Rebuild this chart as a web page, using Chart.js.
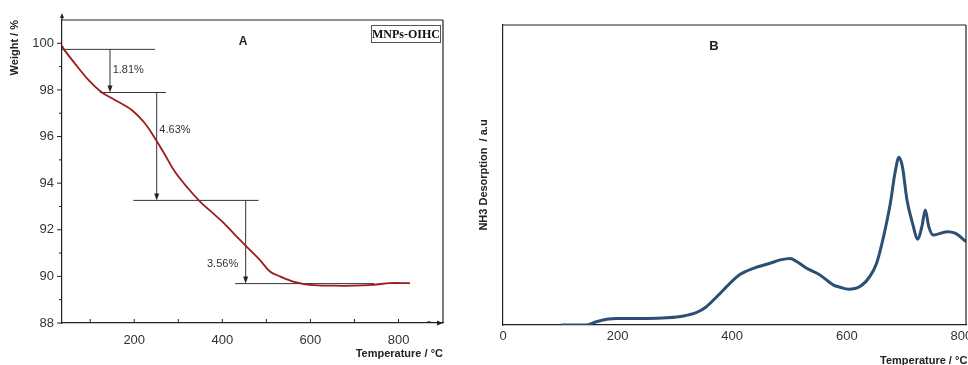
<!DOCTYPE html>
<html>
<head>
<meta charset="utf-8">
<script src="https://cdn.jsdelivr.net/npm/chart.js@4.4.1/dist/chart.umd.min.js"></script>
<style>
  body { margin: 0; background: #fff; overflow: hidden; width: 968px; height: 365px; position: relative; }
  #chartA { position: absolute; left: 0; top: 0; }
  #chartB { position: absolute; left: 476px; top: 0; }
</style>
</head>
<body>
<canvas id="chartA" width="480" height="365"></canvas>
<canvas id="chartB" width="524" height="365"></canvas>
<script>
// Panel A - TGA curve
const tgaTemp = [36, 40, 65, 96, 126, 156, 194, 224, 247, 270, 292, 322, 350, 383, 400, 425, 455, 485, 508, 531, 561, 599, 652, 697, 743, 780, 826];
const tgaWeight = [99.9, 99.75, 99.14, 98.43, 97.9, 97.57, 97.14, 96.57, 95.93, 95.21, 94.5, 93.78, 93.2, 92.64, 92.35, 91.86, 91.28, 90.71, 90.21, 90.0, 89.78, 89.64, 89.6, 89.6, 89.64, 89.71, 89.71];

// weight-loss steps (levels, line extents) and the arrows between them
const stepLevels = [99.74, 97.89, 93.26, 89.69];
const stepFrom = [36, 122, 198, 429];
const stepTo = [247, 272, 482, 745];
const lossTemp = [145, 251, 453];
const lossLabels = ['1.81%', '4.63%', '3.56%'];
const lossLabelTemp = [151, 257, 436];
const lossLabelWeight = [98.84, 96.29, 90.53];

const tempTicksA = [100, 200, 300, 400, 500, 600, 700, 800];
const tempLabelsA = [200, 400, 600, 800];
const weightTicks = [88, 89, 90, 91, 92, 93, 94, 95, 96, 97, 98, 99, 100];
const weightLabels = [88, 90, 92, 94, 96, 98, 100];

// Panel B - NH3-TPD curve
const tpdTemp = [102, 146, 163, 181, 198, 251, 286, 315, 338, 355, 373, 396, 414, 437, 466, 484, 501, 513, 530, 553, 577, 588, 603, 623, 640, 652, 664, 676, 684, 691, 697, 705, 714, 724, 731, 737, 743, 751, 775, 789, 808];
const tpdSignal = [0, 0, 1.1, 1.9, 2.2, 2.2, 2.4, 3, 4.2, 6.1, 9.4, 13.9, 16.9, 18.9, 20.6, 21.7, 22.2, 21.1, 18.9, 16.7, 13.3, 12.6, 11.9, 12.8, 16.1, 20.6, 29.4, 40.6, 50.6, 55.9, 52.8, 41.7, 34.4, 28.6, 32.8, 38.3, 32.8, 30, 31.1, 30.6, 27.8];
const tempTicksB = [0, 200, 400, 600, 800];

const SANS = '"Liberation Sans", Arial, sans-serif';
const INK = '#222';

function tri(ctx, x, y, dir, len, half) {
  ctx.beginPath();
  if (dir === 'up') { ctx.moveTo(x, y); ctx.lineTo(x - half, y + len); ctx.lineTo(x + half, y + len); }
  if (dir === 'down') { ctx.moveTo(x, y); ctx.lineTo(x - half, y - len); ctx.lineTo(x + half, y - len); }
  if (dir === 'right') { ctx.moveTo(x, y); ctx.lineTo(x - len, y - half); ctx.lineTo(x - len, y + half); }
  ctx.closePath();
  ctx.fill();
}

function seg(ctx, x1, y1, x2, y2) {
  ctx.beginPath();
  ctx.moveTo(x1, y1);
  ctx.lineTo(x2, y2);
  ctx.stroke();
}

const stepsPlugin = {
  id: 'steps',
  beforeDatasetsDraw(chart) {
    const { ctx, scales: { x, y } } = chart;
    ctx.save();
    ctx.strokeStyle = '#333';
    ctx.fillStyle = '#222';
    ctx.lineWidth = 1;
    stepLevels.forEach((w, i) => {
      seg(ctx, x.getPixelForValue(stepFrom[i]), y.getPixelForValue(w), x.getPixelForValue(stepTo[i]), y.getPixelForValue(w));
    });
    lossTemp.forEach((t, i) => {
      const px = x.getPixelForValue(t);
      const y2 = y.getPixelForValue(stepLevels[i + 1]);
      seg(ctx, px, y.getPixelForValue(stepLevels[i]), px, y2 - 4);
      tri(ctx, px, y2, 'down', 7, 2.5);
    });
    ctx.font = '11px ' + SANS;
    ctx.fillStyle = '#333';
    ctx.textBaseline = 'middle';
    lossLabels.forEach((s, i) => {
      ctx.textAlign = i === 2 ? 'right' : 'left';
      ctx.fillText(s, x.getPixelForValue(lossLabelTemp[i]), y.getPixelForValue(lossLabelWeight[i]));
    });
    ctx.restore();
  }
};

const frameA = {
  id: 'frameA',
  afterDraw(chart) {
    const { ctx, chartArea: a, scales: { x, y } } = chart;
    ctx.save();
    ctx.strokeStyle = INK;
    ctx.fillStyle = INK;
    ctx.lineWidth = 1.2;
    seg(ctx, a.left, a.top, a.right, a.top);
    seg(ctx, a.right, a.top, a.right, a.bottom);
    // axis arrows
    seg(ctx, a.left, a.top, a.left, a.top - 4);
    tri(ctx, a.left, a.top - 7, 'up', 5, 2);
    tri(ctx, a.right, a.bottom, 'right', 6, 2.5);
    seg(ctx, a.right - 16, a.bottom - 1, a.right - 12, a.bottom - 1);
    // x ticks point inward
    ctx.lineWidth = 1;
    tempTicksA.forEach(v => {
      const px = x.getPixelForValue(v);
      seg(ctx, px, a.bottom, px, a.bottom - 4);
    });
    // y ticks point outward, shorter for odd values
    weightTicks.forEach(v => {
      const py = y.getPixelForValue(v);
      seg(ctx, a.left, py, a.left - (v % 2 === 0 ? 5 : 3), py);
    });
    // panel letter
    ctx.font = 'bold 12px ' + SANS;
    ctx.textAlign = 'center';
    ctx.textBaseline = 'middle';
    ctx.fillText('A', x.getPixelForValue(447), y.getPixelForValue(100.05));
    // sample label box
    ctx.font = 'bold 12px "Liberation Serif", "Times New Roman", serif';
    const bx = a.right - 72, by = a.top + 5;
    ctx.strokeStyle = '#555';
    ctx.lineWidth = 1;
    ctx.strokeRect(bx + 0.5, by + 0.5, 69, 17);
    ctx.fillStyle = '#111';
    ctx.fillText('MNPs-OIHC', bx + 35, by + 9.5);
    ctx.restore();
  }
};

const frameB = {
  id: 'frameB',
  afterDraw(chart) {
    const { ctx, chartArea: a, scales: { x, y } } = chart;
    ctx.save();
    ctx.strokeStyle = INK;
    ctx.lineWidth = 1.2;
    seg(ctx, a.left, a.top, a.right, a.top);
    seg(ctx, a.right, a.top, a.right, a.bottom);
    ctx.fillStyle = INK;
    ctx.font = 'bold 13px ' + SANS;
    ctx.textAlign = 'center';
    ctx.textBaseline = 'middle';
    ctx.fillText('B', x.getPixelForValue(368), y.getPixelForValue(92.8));
    // x title, cut off by the window edge like the source
    ctx.font = 'bold 11px ' + SANS;
    ctx.textAlign = 'left';
    ctx.fillText('Temperature / °C', 404, 361);
    ctx.restore();
  }
};

new Chart(document.getElementById('chartA'), {
  type: 'line',
  data: {
    datasets: [{
      data: tgaTemp.map((t, i) => ({ x: t, y: tgaWeight[i] })),
      borderColor: '#9b1c1c',
      borderWidth: 1.8,
      pointRadius: 0,
      tension: 0.35
    }]
  },
  options: {
    responsive: false,
    animation: false,
    devicePixelRatio: 1,
    layout: { padding: { top: 20, right: 37, left: 0, bottom: 0 } },
    plugins: { legend: { display: false }, tooltip: { enabled: false } },
    scales: {
      x: {
        type: 'linear',
        min: 36,
        max: 901,
        afterBuildTicks: s => { s.ticks = tempTicksA.map(v => ({ value: v })); },
        afterFit: s => { s.height = 42; },
        grid: { drawOnChartArea: false, drawTicks: false },
        border: { color: INK, width: 1.2 },
        ticks: { color: '#333', font: { family: SANS, size: 13 }, padding: 10, maxRotation: 0, autoSkip: false,
          callback: v => tempLabelsA.includes(v) ? v : '' },
        title: { display: true, text: 'Temperature / °C', align: 'end', color: INK,
          font: { family: SANS, size: 11, weight: 'bold' }, padding: { top: 0, bottom: 4 } }
      },
      y: {
        min: 88,
        max: 101,
        afterBuildTicks: s => { s.ticks = weightTicks.map(v => ({ value: v })); },
        afterFit: s => { s.width = 62; },
        grid: { drawOnChartArea: false, drawTicks: false },
        border: { color: INK, width: 1.2 },
        ticks: { color: '#333', font: { family: SANS, size: 13 }, padding: 8, autoSkip: false,
          callback: v => weightLabels.includes(v) ? v : '' },
        title: { display: true, text: 'Weight / %', align: 'end', color: INK,
          font: { family: SANS, size: 11, weight: 'bold' }, padding: { top: 8, bottom: 0 } }
      }
    }
  },
  plugins: [stepsPlugin, frameA]
});

new Chart(document.getElementById('chartB'), {
  type: 'line',
  data: {
    datasets: [{
      data: tpdTemp.map((t, i) => ({ x: t, y: tpdSignal[i] })),
      borderColor: '#2d4f73',
      borderWidth: 3,
      pointRadius: 0,
      cubicInterpolationMode: 'monotone'
    }]
  },
  options: {
    responsive: false,
    animation: false,
    devicePixelRatio: 1,
    layout: { padding: { top: 25, right: 34, left: 0, bottom: 0 } },
    plugins: { legend: { display: false }, tooltip: { enabled: false } },
    scales: {
      x: {
        type: 'linear',
        min: 0,
        max: 808,
        afterBuildTicks: s => { s.ticks = tempTicksB.map(v => ({ value: v })); },
        afterFit: s => { s.height = 40; },
        grid: { drawOnChartArea: false, drawTicks: false },
        border: { color: INK, width: 1.2 },
        ticks: { color: '#333', font: { family: SANS, size: 13 }, padding: 4, maxRotation: 0, autoSkip: false }
      },
      y: {
        min: 0,
        max: 100,
        afterFit: s => { s.width = 27; },
        grid: { drawOnChartArea: false, drawTicks: false },
        border: { color: INK, width: 1.2 },
        ticks: { display: false },
        title: { display: true, text: 'NH3 Desorption  / a.u', color: INK,
          font: { family: SANS, size: 11, weight: 'bold' }, padding: { top: 1, bottom: 0 } }
      }
    }
  },
  plugins: [frameB]
});
</script>
</body>
</html>
